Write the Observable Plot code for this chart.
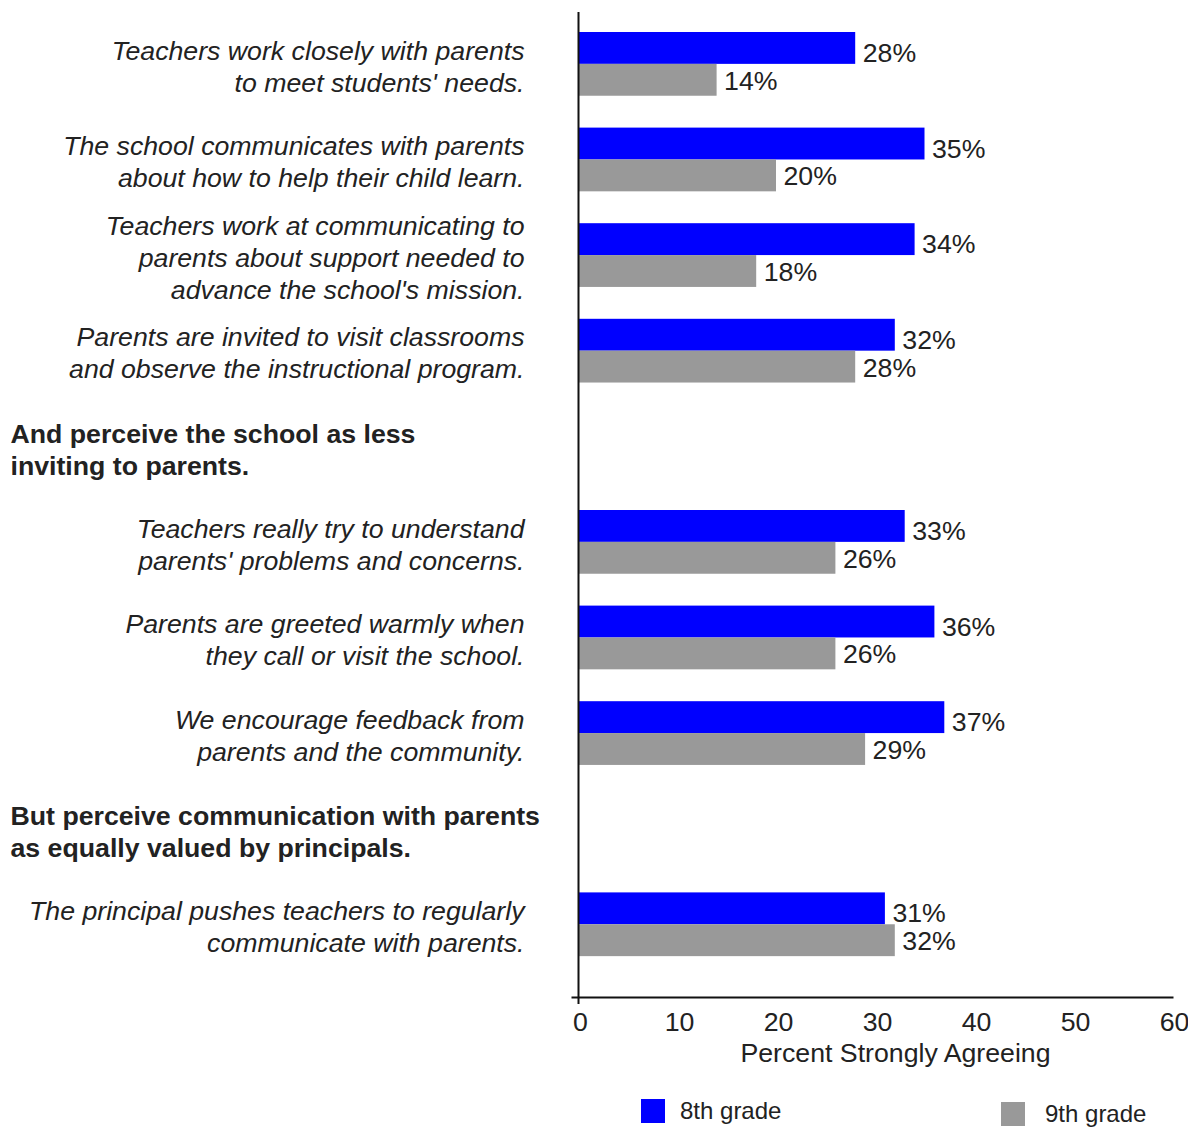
<!DOCTYPE html>
<html>
<head>
<meta charset="utf-8">
<script src="https://cdn.jsdelivr.net/npm/d3@7"></script>
<script src="https://cdn.jsdelivr.net/npm/@observablehq/plot@0.6"></script>
<style>
  body { margin: 0; background: #fff; font-family: "Liberation Sans", Arial, sans-serif; }
  #wrap { position: relative; width: 1188px; height: 1129px; overflow: hidden; }
  .leg { position: absolute; font-size: 24px; color: #222; display: flex; align-items: center; }
  .sw { width: 24px; height: 24px; margin-right: 15px; }
</style>
</head>
<body>
<div id="wrap">
  <div id="chart"></div>
  <div class="leg" style="left:641px; top:1097px;"><div class="sw" style="background:#0000ff"></div>8th grade</div>
  <div class="leg" style="left:1001px; top:1100px;"><div class="sw" style="background:#999999;margin-right:20px"></div>9th grade</div>
</div>
<script>
const items = [
  "Teachers work closely with parents\nto meet students' needs.",
  "The school communicates with parents\nabout how to help their child learn.",
  "Teachers work at communicating to\nparents about support needed to\nadvance the school's mission.",
  "Parents are invited to visit classrooms\nand observe the instructional program.",
  "Teachers really try to understand\nparents' problems and concerns.",
  "Parents are greeted warmly when\nthey call or visit the school.",
  "We encourage feedback from\nparents and the community.",
  "The principal pushes teachers to regularly\ncommunicate with parents."
];
const headers = [
  "And perceive the school as less\ninviting to parents.",
  "But perceive communication with parents\nas equally valued by principals."
];
const grade8 = [28, 35, 34, 32, 33, 36, 37, 31];
const grade9 = [14, 20, 18, 28, 26, 26, 29, 32];
const rowOrder = ["i0", "i1", "i2", "i3", "h0", "i4", "i5", "i6", "h1", "i7"];
const ticks = [0, 10, 20, 30, 40, 50, 60];

const bars8 = items.map((t, i) => ({key: "i" + i + "|8", value: grade8[i], grade: "8th grade"}));
const bars9 = items.map((t, i) => ({key: "i" + i + "|9", value: grade9[i], grade: "9th grade"}));
const bars = bars8.concat(bars9);
const itemRows = items.map((t, i) => ({key: "i" + i + "|8", text: t}));
const headerRows = headers.map((t, i) => ({key: "h" + i + "|8", text: t}));
const yDomain = rowOrder.flatMap(r => [r + "|8", r + "|9", r + "|gap"]);

const FS = 26.7;
const chart = Plot.plot({
  width: 1188,
  height: 1075,
  marginLeft: 578,
  marginRight: 16,
  marginTop: 12,
  marginBottom: 78,
  style: {fontFamily: "'Liberation Sans', Arial, sans-serif", color: "#222", background: "#fff"},
  x: {domain: [0, 60]},
  y: {type: "band", domain: yDomain, range: [32, 988], padding: 0, round: false, axis: null},
  color: {domain: ["8th grade", "9th grade"], range: ["#0000ff", "#999999"]},
  marks: [
    Plot.barX(bars, {x: "value", y: "key", fill: "grade"}),
    Plot.text(bars8, {x: "value", y: "key", text: d => d.value + "%", dx: 7, dy: 5, textAnchor: "start", fontSize: FS, fill: "#222"}),
    Plot.text(bars9, {x: "value", y: "key", text: d => d.value + "%", dx: 7, dy: 1, textAnchor: "start", fontSize: FS, fill: "#222"}),
    Plot.text(itemRows, {y: "key", text: "text", frameAnchor: "left", dx: -54, dy: 17, textAnchor: "end", lineAnchor: "middle", lineHeight: 1.2, fontSize: FS, fontStyle: "italic", fill: "#222"}),
    Plot.text(headerRows, {y: "key", text: "text", frameAnchor: "left", dx: -568, dy: 18, textAnchor: "start", lineAnchor: "middle", lineHeight: 1.2, fontSize: FS, fontWeight: "bold", fill: "#222"}),
    Plot.ruleX([0], {stroke: "#111", strokeWidth: 2}),
    Plot.frame({anchor: "bottom", stroke: "#111", strokeWidth: 2, insetLeft: -6}),
    Plot.axisX({ticks: [0], tickSize: 7, tickFormat: () => "", stroke: "#111", strokeWidth: 2, label: null}),
    Plot.axisX({ticks: ticks, tickSize: 0, tickPadding: 15, dx: 2, fontSize: FS, fill: "#222", label: null}),
    Plot.text(["Percent Strongly Agreeing"], {frameAnchor: "bottom", lineAnchor: "middle", dx: 20, dy: 56, fontSize: FS, fill: "#222"})
  ]
});
document.getElementById("chart").appendChild(chart);
</script>
</body>
</html>
